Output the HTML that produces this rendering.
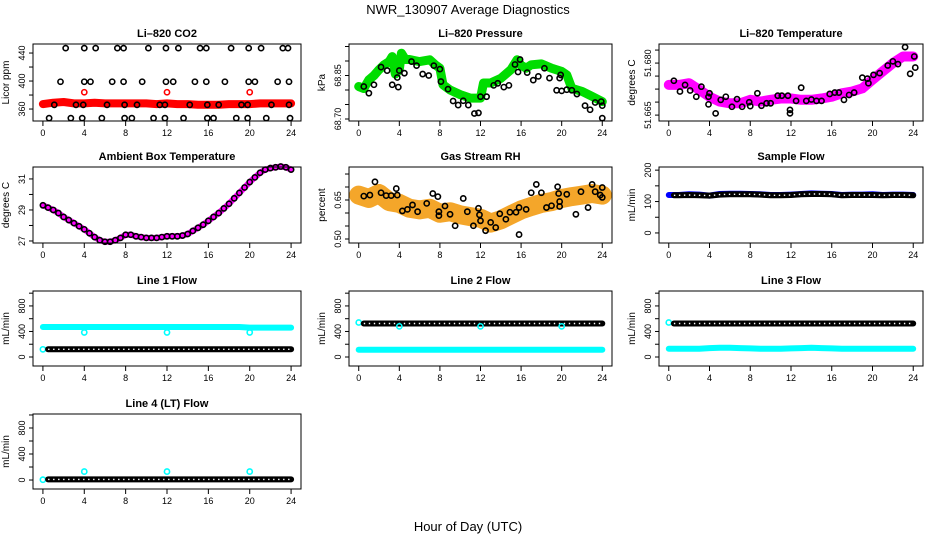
<!DOCTYPE html>
<html><head><meta charset="utf-8"><style>
html,body{margin:0;padding:0;background:#fff;}
svg{display:block;font-family:"Liberation Sans",sans-serif;}
</style></head><body>
<svg id="chart" width="936" height="540" viewBox="0 0 936 540" xmlns="http://www.w3.org/2000/svg">
<rect x="0" y="0" width="936" height="540" fill="#fff"/>
<text x="468" y="14" text-anchor="middle" font-size="13">NWR_130907  Average Diagnostics</text>
<text x="468" y="531" text-anchor="middle" font-size="13">Hour of Day (UTC)</text>
</svg>
<script>
// ---------------- data ----------------
const HOURS = [0,1,2,3,4,5,6,7,8,9,10,11,12,13,14,15,16,17,18,19,20,21,22,23,24];
const HOURS_B = [0.5,1,2,3,4,5,6,7,8,9,10,11,12,13,14,15,16,17,18,19,20,21,22,23,24];
const xTicks = [0,4,8,12,16,20,24];
const OUT_H = [4,12,20];

// CO2
const co2Red = [367,369,370,368,368,369,368,368,368,368,368,367,368,367,367,366,366,366,367,367,367,368,368,368,368];
const co2RedOut = [384,384,384];
const co2BlackH = [2.2,4.0,5.1,7.2,7.8,10.2,11.9,13.1,15.2,15.8,18.2,19.9,21.1,23.2,23.7,
  1.7,4.0,4.6,6.7,7.8,9.6,11.9,12.6,14.7,15.8,17.6,19.9,20.5,22.7,23.8,
  1.1,3.2,3.9,6.2,7.9,9.1,11.3,11.8,14.2,15.9,17.0,19.2,19.8,22.1,23.8,
  0.6,2.7,3.8,5.7,7.9,8.6,10.7,11.8,13.6,15.9,16.5,18.7,19.8,21.6,23.9];
const co2BlackV = [447,447,447,447,447,447,447,447,447,447,447,447,447,447,447,
  399,399,399,399,399,399,399,399,399,399,399,399,399,399,399,
  366,366,366,366,366,366,366,366,366,366,366,366,366,366,366,
  347,347,347,347,347,347,347,347,347,347,347,347,347,347,347];

// Pressure
const prGreenH = [0,0.5,1,1.5,2,2.5,3,3.3,3.6,4,4.2,4.6,5,6,7,7.6,8,8.3,9,10,11,12,12.3,13,14,15,15.6,16,16.5,17,18,19,20,20.5,21,22,23,24];
const prGreenV = [68.812,68.805,68.835,68.85,68.87,68.887,68.898,68.915,68.855,68.87,68.927,68.905,68.905,68.898,68.904,68.885,68.875,68.818,68.80,68.784,68.772,68.772,68.824,68.824,68.84,68.87,68.904,68.885,68.875,68.887,68.89,68.875,68.864,68.852,68.806,68.795,68.778,68.76];
const prBlackH = [0.5,1,1.5,2.2,2.8,3.3,3.8,3.9,4.0,4.5,5.2,5.7,6.3,6.9,7.4,8,8.1,8.8,9.3,9.8,10.3,10.8,11.4,11.8,12.0,12.6,13.3,13.7,14.3,14.8,15.4,15.9,15.7,16.6,17.2,17.7,18.3,18.8,19.5,20.0,19.8,19.9,20.5,21.0,21.5,22.3,22.8,23.3,24,24,23.9];
const prBlackV = [68.812,68.789,68.818,68.879,68.867,68.818,68.843,68.810,68.867,68.858,68.898,68.884,68.855,68.850,68.884,68.872,68.829,68.803,68.762,68.748,68.763,68.748,68.719,68.721,68.777,68.777,68.816,68.823,68.810,68.816,68.888,68.905,68.862,68.860,68.834,68.847,68.875,68.841,68.799,68.797,68.841,68.852,68.801,68.799,68.786,68.746,68.732,68.757,68.746,68.703,68.760];

// Li-820 temperature
const tmMag = [51.6737,51.6737,51.6742,51.6723,51.6703,51.6689,51.6684,51.6684,51.6694,51.6689,51.6694,51.6698,51.6698,51.6694,51.6694,51.6698,51.6703,51.6713,51.6718,51.6727,51.6752,51.6776,51.6800,51.6819,51.6819];
const tmBlackH = [0.5,1.1,1.6,2.1,2.7,3.2,3.9,4.0,3.9,4.6,5.1,5.6,6.2,6.7,7.2,7.9,8.0,8.7,9.1,9.6,10.0,10.7,11.1,11.7,11.9,11.9,12.5,13.0,13.5,14.0,14.5,15.0,15.8,16.3,16.7,17.2,17.7,18.2,19.0,19.5,19.6,20.1,20.7,21.5,22.0,22.5,23.2,23.7,24.1,24.2];
const tmBlackV = [51.6749,51.6718,51.6737,51.6721,51.6703,51.6732,51.6703,51.6713,51.6681,51.6655,51.6694,51.6703,51.6674,51.6696,51.6674,51.6687,51.6676,51.6713,51.6677,51.6684,51.6684,51.6706,51.6706,51.6706,51.6665,51.6655,51.6691,51.6729,51.6691,51.6695,51.6691,51.6691,51.6711,51.6715,51.6715,51.6694,51.6708,51.6715,51.6758,51.6755,51.6742,51.6766,51.6771,51.6793,51.6805,51.6797,51.6846,51.6769,51.6819,51.6787];

// Ambient box temperature (half-hourly)
const abH = [0,0.5,1,1.5,2,2.5,3,3.5,4,4.5,5,5.5,6,6.5,7,7.5,8,8.5,9,9.5,10,10.5,11,11.5,12,12.5,13,13.5,14,14.5,15,15.5,16,16.5,17,17.5,18,18.5,19,19.5,20,20.5,21,21.5,22,22.5,23,23.5,24];
const abV = [29.3,29.15,29.0,28.8,28.55,28.35,28.15,27.95,27.75,27.5,27.25,27.05,26.95,26.95,27.05,27.2,27.4,27.4,27.3,27.25,27.2,27.2,27.2,27.25,27.3,27.3,27.3,27.35,27.45,27.65,27.85,28.05,28.3,28.55,28.8,29.1,29.4,29.75,30.1,30.45,30.8,31.1,31.4,31.6,31.7,31.75,31.8,31.75,31.6];

// Gas stream RH
const rhOrange = [0.669,0.656,0.675,0.644,0.637,0.618,0.612,0.618,0.599,0.605,0.593,0.586,0.580,0.561,0.574,0.593,0.612,0.625,0.637,0.644,0.656,0.663,0.669,0.675,0.669];
const rhBlackH = [0.5,1.1,1.6,2.2,2.7,3.2,3.7,3.8,4.3,4.8,5.3,5.8,6.7,7.3,7.8,7.9,7.9,8.5,9.0,9.5,10.3,10.7,11.3,11.8,11.9,12.0,12.5,13.0,13.5,13.9,14.5,14.9,15.5,15.8,15.8,16.5,17.0,17.5,18.0,18.5,19.0,19.6,19.7,19.8,19.8,20.5,21.4,21.9,22.6,23.0,23.3,23.8,24.0,24.0];
const rhBlackV = [0.665,0.669,0.720,0.678,0.667,0.667,0.694,0.669,0.608,0.614,0.631,0.605,0.637,0.675,0.663,0.605,0.590,0.627,0.595,0.551,0.656,0.605,0.551,0.618,0.593,0.570,0.532,0.564,0.544,0.597,0.576,0.603,0.603,0.621,0.517,0.614,0.678,0.710,0.678,0.621,0.628,0.701,0.675,0.644,0.625,0.672,0.595,0.682,0.621,0.710,0.682,0.669,0.698,0.660];

// Sample flow
const sfBlue = [121,121,123,122,119,124,125,125,124,123,121,121,122,124,126,125,124,121,122,122,123,121,122,122,121];
const sfBlack = [120,120,121,120,119,122,123,123,123,122,120,120,121,123,124,124,123,120,121,121,121,120,121,121,120];

// Line flows
const l1Cyan = [470,470,470,470,470,470,470,470,470,470,470,470,470,470,470,470,470,470,470,470,460,460,460,460,460];
const l1CyanOut = [385,385,385];
const l1Black = [120,120,120,120,120,120,120,120,120,120,120,120,120,120,120,120,120,120,120,120,120,120,120,120,120];
const l2Black = [525,525,525,525,525,525,525,525,525,525,525,525,525,525,525,525,525,525,525,525,525,525,525,525,525];
const l2Cyan = [115,115,115,115,115,115,115,115,115,115,115,115,115,115,115,115,115,115,115,115,115,115,115,115,115];
const l2CyanOut = [480,480,480];
const l3Black = [525,525,525,525,525,525,525,525,525,525,525,525,525,525,525,525,525,525,525,525,525,525,525,525,525];
const l3Cyan = [130,130,130,130,140,145,145,140,135,130,130,130,135,140,145,140,135,130,130,130,130,130,130,130,130];
const l4Black = [10,10,10,10,10,10,10,10,10,10,10,10,10,10,10,10,10,10,10,10,10,10,10,10,10];
const l4CyanOut = [130,130,130];

// ---------------- drawing ----------------
const svg = document.getElementById('chart');
const NS = 'http://www.w3.org/2000/svg';
const COLS = [{x:33,w:268},{x:349,w:263},{x:659,w:264}];
const ROWS = [{y:44,h:77},{y:167,h:76},{y:291,h:75},{y:414,h:75}];
function mk(tag, attrs, parent){
  const e = document.createElementNS(NS, tag);
  for (const k in attrs) e.setAttribute(k, attrs[k]);
  (parent||svg).appendChild(e);
  return e;
}
function panel(name, title, col, row, ymin, ymax, yTicks, yLabels, ylab, fs){
  const c = COLS[col], r = ROWS[row];
  const g = mk('g', {});
  
  
  const xs = h => c.x + c.w*(0.037 + 0.926*h/24);
  const ys = v => r.y + r.h*(ymax - v)/(ymax - ymin);
  const t = mk('text', {x: c.x + c.w/2, y: r.y - 7, 'text-anchor':'middle', 'font-size':11, 'font-weight':'bold'}, g);
  t.textContent = title;
  
  
  const data = mk('g', {}, g);
  
  
  const frame = mk('rect', {x:c.x, y:r.y, width:c.w, height:r.h, fill:'none', stroke:'#000', 'stroke-width':1}, g);
  
  
  const xa = mk('g', {}, g);
  
  
  mk('line', {x1:xs(0), x2:xs(24), y1:r.y+r.h, y2:r.y+r.h, stroke:'#000'}, xa);
  xTicks.forEach(h => {
    mk('line', {x1:xs(h), x2:xs(h), y1:r.y+r.h, y2:r.y+r.h+5, stroke:'#000'}, xa);
    const l = mk('text', {x:xs(h), y:r.y+r.h+15, 'text-anchor':'middle', 'font-size':9}, xa);
    l.textContent = h;
    
    
  });
  const ya = mk('g', {}, g);
  
  
  mk('line', {x1:c.x, x2:c.x, y1:ys(yTicks[0]), y2:ys(yTicks[yTicks.length-1]), stroke:'#000'}, ya);
  yTicks.forEach(v => mk('line', {x1:c.x-4, x2:c.x, y1:ys(v), y2:ys(v), stroke:'#000'}, ya));
  yLabels.forEach(v => {
    const yy = ys(v[0]);
    const l = mk('text', {x:c.x-8, y:yy, 'text-anchor':'middle', 'font-size':fs||9, transform:`rotate(-90 ${c.x-8} ${yy})`}, ya);
    l.textContent = v[1];
    
    
  });
  const yt = mk('text', {x:c.x-24, y:r.y+r.h/2, 'text-anchor':'middle', 'font-size':10, transform:`rotate(-90 ${c.x-24} ${r.y+r.h/2})`}, g);
  yt.textContent = ylab;
  
  
  return {xs, ys, g:data};
}
function band(p, hs, vs, color, w, name){
  let d = '';
  hs.forEach((h,i) => { d += (i ? 'L' : 'M') + p.xs(h).toFixed(1) + ' ' + p.ys(vs[i]).toFixed(1); });
  const e = mk('path', {d, fill:'none', stroke:color, 'stroke-width':w, 'stroke-linecap':'round', 'stroke-linejoin':'round'}, p.g);
  
  
  return e;
}
function chain(p, hs, vs, color, name){
  band(p, hs, vs, color, 6, name);
  let d = '';
  hs.forEach((h,i) => { d += (i ? 'L' : 'M') + p.xs(h).toFixed(1) + ' ' + p.ys(vs[i]).toFixed(1); });
  const e = mk('path', {d, fill:'none', stroke:'#fff', 'stroke-width':1.4, 'stroke-dasharray':'1.4 3.6'}, p.g);
  
  
}
function pts(p, hs, vs, color, name){
  hs.forEach((h,i) => {
    const e = mk('circle', {cx:p.xs(h), cy:p.ys(vs[i]), r:2.6, fill:'none', stroke:color, 'stroke-width':1.6}, p.g);
    
    
  });
}

let p = panel('co2', 'Li\u2013820 CO2', 0, 0, 342.9, 452.9, [360,380,400,420,440], [[360,'360'],[400,'400'],[440,'440']], 'Licor ppm');
band(p, HOURS, co2Red, '#ff0000', 8, 'co2-red-band');
pts(p, OUT_H, co2RedOut, '#ff0000', 'co2-red-outlier');
pts(p, co2BlackH, co2BlackV, '#000', 'co2-black-point');

p = panel('pressure', 'Li\u2013820 Pressure', 1, 0, 68.6931, 68.9586, [68.70,68.75,68.80,68.85,68.90,68.95], [[68.70,'68.70'],[68.85,'68.85']], 'kPa');
band(p, prGreenH, prGreenV, '#00dd00', 9, 'pressure-green-band');
pts(p, prBlackH, prBlackV, '#000', 'pressure-black-point');

p = panel('li820-temp', 'Li\u2013820 Temperature', 2, 0, 51.6633, 51.6855, [51.665,51.66875,51.6725,51.67625,51.68,51.68375], [[51.665,'51.665'],[51.68,'51.680']], 'degrees C');
band(p, HOURS, tmMag, '#ff00ff', 10, 'li820-temp-magenta-band');
pts(p, tmBlackH, tmBlackV, '#000', 'li820-temp-black-point');

p = panel('ambient', 'Ambient Box Temperature', 0, 1, 26.87, 31.77, [27,28,29,30,31], [[27,'27'],[29,'29'],[31,'31']], 'degrees C');
band(p, abH, abV, '#ff00ff', 6, 'ambient-magenta-band');
pts(p, abH, abV, '#000', 'ambient-black-point');

p = panel('rh', 'Gas Stream RH', 1, 1, 0.4846, 0.777, [0.50,0.55,0.60,0.65,0.70,0.75], [[0.50,'0.50'],[0.65,'0.65']], 'percent');
band(p, HOURS, rhOrange, '#f4a62a', 19, 'rh-orange-band');
pts(p, rhBlackH, rhBlackV, '#000', 'rh-black-point');

p = panel('sample-flow', 'Sample Flow', 2, 1, -32, 210, [0,50,100,150,200], [[0,'0'],[100,'100'],[200,'200']], 'mL/min');
band(p, HOURS, sfBlue, '#0000ff', 6, 'sample-flow-blue-band');
chain(p, HOURS_B, sfBlack, '#000', 'sample-flow-black-chain');

p = panel('line1', 'Line 1 Flow', 0, 2, -141, 1034, [0,200,400,600,800,1000], [[0,'0'],[400,'400'],[800,'800']], 'mL/min');
band(p, HOURS, l1Cyan, '#00ffff', 6, 'line1-cyan-band');
pts(p, OUT_H, l1CyanOut, '#00ffff', 'line1-cyan-outlier');
pts(p, [0], [120], '#00ffff', 'line1-cyan-start');
chain(p, HOURS_B, l1Black, '#000', 'line1-black-chain');

p = panel('line2', 'Line 2 Flow', 1, 2, -141, 1034, [0,200,400,600,800,1000], [[0,'0'],[400,'400'],[800,'800']], 'mL/min');
band(p, HOURS, l2Cyan, '#00ffff', 6, 'line2-cyan-band');
pts(p, [0], [540], '#00ffff', 'line2-cyan-start');
chain(p, HOURS_B, l2Black, '#000', 'line2-black-chain');
pts(p, OUT_H, l2CyanOut, '#00ffff', 'line2-cyan-outlier');

p = panel('line3', 'Line 3 Flow', 2, 2, -141, 1034, [0,200,400,600,800,1000], [[0,'0'],[400,'400'],[800,'800']], 'mL/min');
band(p, HOURS, l3Cyan, '#00ffff', 6, 'line3-cyan-band');
pts(p, [0], [540], '#00ffff', 'line3-cyan-start');
chain(p, HOURS_B, l3Black, '#000', 'line3-black-chain');

p = panel('line4', 'Line 4 (LT) Flow', 0, 3, -138, 1015, [0,200,400,600,800,1000], [[0,'0'],[400,'400'],[800,'800']], 'mL/min');
pts(p, [0], [5], '#00ffff', 'line4-cyan-start');
chain(p, HOURS_B, l4Black, '#000', 'line4-black-chain');
pts(p, OUT_H, l4CyanOut, '#00ffff', 'line4-cyan-outlier');
</script>
</body></html>
